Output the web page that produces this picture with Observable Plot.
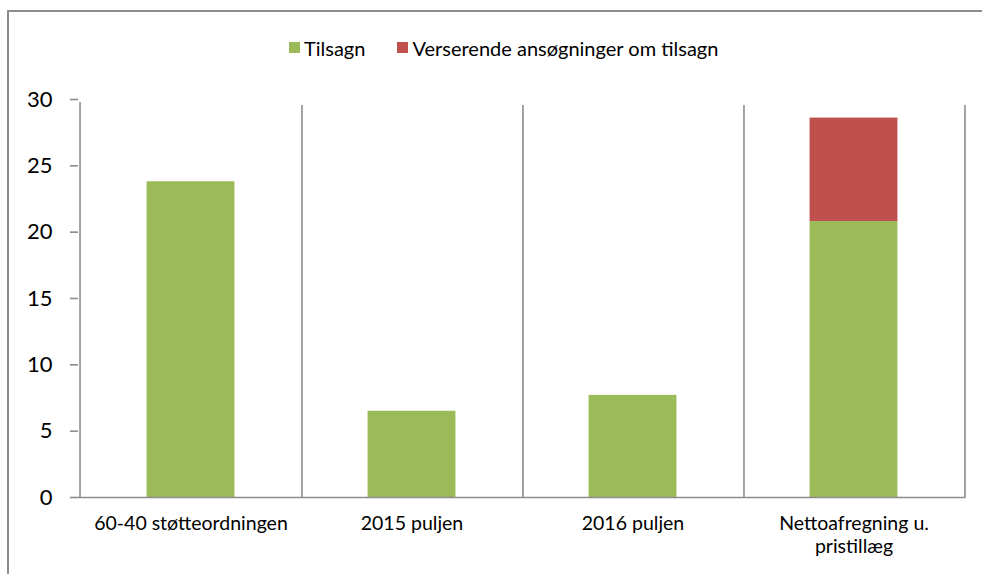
<!DOCTYPE html>
<html>
<head>
<meta charset="utf-8">
<script src="https://cdn.jsdelivr.net/npm/d3@7"></script>
<script src="https://cdn.jsdelivr.net/npm/@observablehq/plot@0.6"></script>
<style>
  html, body { margin: 0; padding: 0; background: #fff; overflow: hidden; }
  #wrap { position: relative; width: 982px; height: 574px; overflow: hidden; font-family: Lato, "Open Sans", sans-serif; }
  #frame { position: absolute; left: 7px; top: 10px; width: 1200px; height: 800px; border-left: 2px solid #8c8c8c; border-top: 2px solid #8c8c8c; box-sizing: border-box; }
  #chart { position: absolute; left: 0; top: 0; }
  #legend { position: absolute; left: 289px; top: 35px; height: 25px; display: flex; align-items: center; font-size: 20px; color: #000; white-space: nowrap; }
  .item { display: flex; align-items: center; margin-right: 32px; }
  .sw { width: 11px; height: 11px; margin-right: 4px; }
</style>
</head>
<body>
<div id="wrap">
  <div id="chart"></div>
  <div id="frame"></div>
  <div id="legend"></div>
</div>
<script>
const categories = ["60-40 støtteordningen", "2015 puljen", "2016 puljen", "Nettoafregning u. pristillæg"];
const tickLabels = ["60-40 støtteordningen", "2015 puljen", "2016 puljen", "Nettoafregning u.\npristillæg"];
const series = ["Tilsagn", "Verserende ansøgninger om tilsagn"];
const tilsagn = [23.8, 6.5, 7.7, 20.8];
const verserende = [0, 0, 0, 7.8];
const colors = ["#9BBB59", "#C0504D"];
const yTicks = [0, 5, 10, 15, 20, 25, 30];

const rows = [];
categories.forEach((c, i) => {
  rows.push({cat: c, series: series[0], value: tilsagn[i]});
  rows.push({cat: c, series: series[1], value: verserende[i]});
});

const W = 982, H = 574, ML = 78, MR = 16.3, MT = 99, MB = 77;
const bw = (W - ML - MR) / categories.length;
const grid = "#8c8c8c";

const chart = Plot.plot({
  width: W, height: H,
  marginLeft: ML, marginRight: MR, marginTop: MT, marginBottom: MB,
  x: {domain: categories, padding: 0, axis: null},
  y: {domain: [0, 30], axis: null},
  color: {domain: series, range: colors},
  style: {fontFamily: "Lato, 'Open Sans', sans-serif", background: "transparent", color: "#000"},
  marks: [
    Plot.barY(rows, {x: "cat", y: "value", fill: "series", insetLeft: bw * 0.3, insetRight: bw * 0.3}),
    Plot.ruleX(categories, {x: d => d, dx: bw / 2, y1: 0, y2: 30, insetBottom: -6, stroke: grid, strokeWidth: 1.6}),
    Plot.ruleX([categories[0]], {x: d => d, dx: -bw / 2, y1: 0, y2: 30, insetBottom: -3, stroke: grid, strokeWidth: 1.6}),
    Plot.ruleY([0], {stroke: grid, strokeWidth: 1.6}),
    Plot.axisY({ticks: yTicks, label: null, tickSize: 8, tickPadding: 18, fontSize: 22, stroke: grid, strokeWidth: 1.6, fill: "#000"}),
    Plot.text(categories, {x: d => d, frameAnchor: "bottom", dy: 16, lineAnchor: "top", text: (d, i) => tickLabels[i], fontSize: 19.5, lineHeight: 1.18, fill: "#000"})
  ]
});
document.getElementById("chart").appendChild(chart);

const legend = document.getElementById("legend");
series.forEach((s, i) => {
  const item = document.createElement("div");
  item.className = "item";
  const sw = document.createElement("div");
  sw.className = "sw";
  sw.style.background = colors[i];
  const t = document.createElement("span");
  t.textContent = s;
  item.appendChild(sw);
  item.appendChild(t);
  legend.appendChild(item);
});
</script>
</body>
</html>
